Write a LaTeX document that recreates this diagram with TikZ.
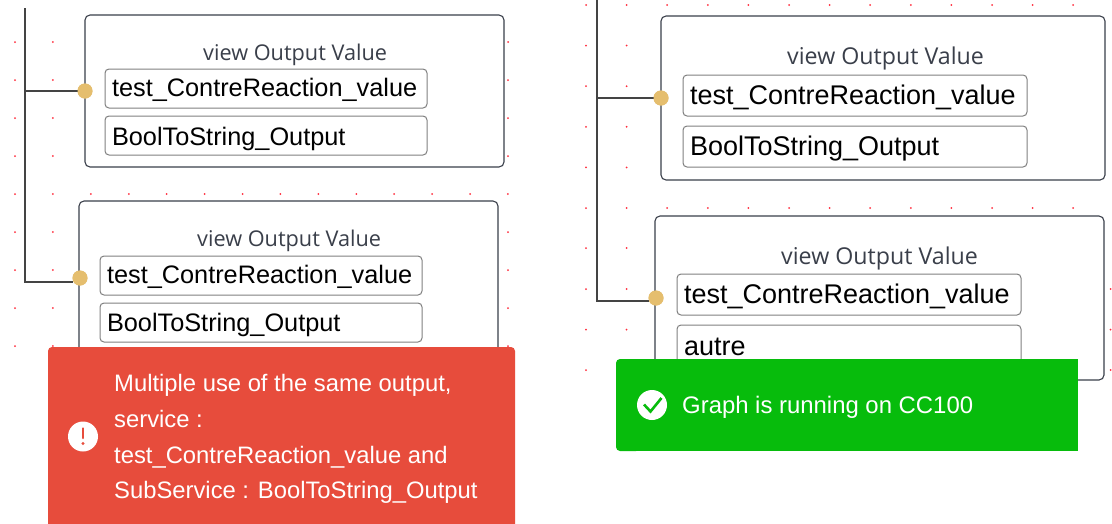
\documentclass[tikz,border=0pt]{standalone}
\usepackage{fontspec}
\setmainfont{Liberation Sans}
\newfontfamily\titlefont{Open Sans}
\definecolor{framecol}{HTML}{3A3F4A}
\definecolor{fieldcol}{HTML}{808080}
\definecolor{linecol}{HTML}{444444}
\definecolor{gold}{HTML}{E5BE6E}
\definecolor{toastred}{HTML}{E74C3C}
\definecolor{toastgreen}{HTML}{07BC0C}
\definecolor{gridred}{HTML}{FF2B3B}
\tikzset{
  griddot/.style={fill=gridred,draw=none},
  frame/.style={draw=framecol,line width=1.1pt,fill=white,rounded corners=5pt,anchor=north west,inner sep=0pt,outer sep=0pt},
  field/.style={draw=fieldcol,line width=1pt,fill=white,rounded corners=4pt,anchor=north west,inner sep=0pt,outer sep=0pt,align=left,text=black},
  fieldleft/.style={field,minimum height=39pt,text width=308pt,text height=19.5pt,text depth=3.5pt,font=\fontsize{25.3}{30}\selectfont,inner xsep=7pt},
  fieldright/.style={field,minimum height=41pt,text width=330pt,text height=20.5pt,text depth=3.5pt,font=\fontsize{27}{32}\selectfont,inner xsep=7pt},
  port/.style={circle,fill=gold,draw=none,minimum size=15pt,inner sep=0pt,outer sep=0pt},
  wire/.style={draw=linecol,line width=2.4pt},
  viewtitle/.style={text=framecol,inner sep=0pt,anchor=base west,font=\titlefont\fontsize{21.7}{26}\selectfont},
  viewtitleright/.style={viewtitle,font=\titlefont\fontsize{23.2}{28}\selectfont},
  toasttext/.style={text=white,inner sep=0pt,align=left},
  iconbg/.style={circle,fill=white,draw=none,minimum size=30pt,inner sep=0pt},
}
\begin{document}
\begin{tikzpicture}[x=1pt,y=-1pt]
\useasboundingbox (0,0) rectangle (1112,523);
\fill[white] (0,0) rectangle (1112,523);
% grid dots, left
\foreach \yy in {42,80,118,156,232,270,308,346}
  \foreach \xx in {15,52.9,508}
    \fill[griddot] (\xx,\yy) circle (1pt);
\foreach \k in {0,...,13}
  \fill[griddot] ({15+37.92*\k},194) circle (1pt);
% grid dots, right
\foreach \yy in {45.6,86.2,126.8,167.4,248,289,329.6,370}
  \foreach \xx in {586,626.6}
    \fill[griddot] (\xx,\yy) circle (1pt);
\foreach \yy in {5,208}
  \foreach \k in {0,...,12}
    \fill[griddot] ({586+40.6*\k},\yy) circle (1pt);
\foreach \yy in {289,329.6,370}
  \fill[griddot] (1110.5,\yy) circle (1pt);

% left panel
\node[frame,minimum width=419pt,minimum height=152pt] (la) at (85,15) {};
\node[frame,minimum width=419pt,minimum height=160pt] (lb) at (79,201) {};
\node[viewtitle] (lat) at (203,60) {view Output Value};
\node[viewtitle] (lbt) at (197,246) {view Output Value};
\node[fieldleft] (la1) at (105,69) {test\_ContreReaction\_value};
\node[fieldleft,text height=21.5pt,text depth=1.5pt] (la2) at (105,116) {BoolToString\_Output};
\node[fieldleft] (lb1) at (100,256) {test\_ContreReaction\_value};
\node[fieldleft,text height=20.5pt,text depth=2.5pt] (lb2) at (100,303) {BoolToString\_Output};
\node[port] (lap) at (85,91) {};
\node[port] (lbp) at (80,278) {};
\coordinate (ltop) at (25,8);
\draw[wire] (ltop) |- (lap);
\draw[wire] (ltop) |- ([yshift=-4pt]lbp.west);
\node[port] at (lap) {};
\node[port] at (lbp) {};

% right panel
\node[frame,minimum width=444pt,minimum height=164pt] (ra) at (661,16) {};
\node[frame,minimum width=449pt,minimum height=164pt] (rb) at (655,216) {};
\node[viewtitleright] (rat) at (787,64.5) {view Output Value};
\node[viewtitleright] (rbt) at (781,264.5) {view Output Value};
\node[fieldright] (ra1) at (683,75) {test\_ContreReaction\_value};
\node[fieldright] (ra2) at (683,126) {BoolToString\_Output};
\node[fieldright] (rb1) at (677,274) {test\_ContreReaction\_value};
\node[fieldright,text height=21.5pt,text depth=2.5pt] (rb2) at (677,325) {autre};
\node[port] (rap) at (661,98) {};
\node[port] (rbp) at (656,298) {};
\coordinate (rtop) at (597,0);
\draw[wire] (rtop) |- (rap);
\draw[wire] (rtop) |- ([yshift=-3pt]rbp.west);
\node[port] at (rap) {};
\node[port] at (rbp) {};

% red toast
\fill[toastred,rounded corners=4pt] (48,535) -- (48,347) -- (515,347) -- (515,535) -- cycle;
\node[toasttext,anchor=north west,font=\fontsize{23.8}{35.6}\selectfont] (errtext) at (114,374.5)
  {Multiple use of the same output,\\service :\\test\_ContreReaction\_value and\\SubService : BoolToString\_Output};
\node[iconbg] (erricon) at (83,436.5) {};
\draw[toastred,line width=2.6pt,line cap=round] (83,428.5) -- (83,438);
\fill[toastred] (83,443.5) circle (1.7pt);

% green toast
\fill[toastgreen,rounded corners=4pt] (640,359) -- (616,359) -- (616,451) -- (640,451) -- cycle;
\fill[toastgreen] (630,359) rectangle (1078,451);
\node[toasttext,anchor=base west,font=\fontsize{23.9}{28}\selectfont] (oktext) at (682,413) {Graph is running on CC100};
\node[iconbg] (okicon) at (652,405) {};
\draw[toastgreen,line width=2.6pt] (644,404.5) -- (650.5,411.5) -- (661.5,398);
\end{tikzpicture}
\end{document}
